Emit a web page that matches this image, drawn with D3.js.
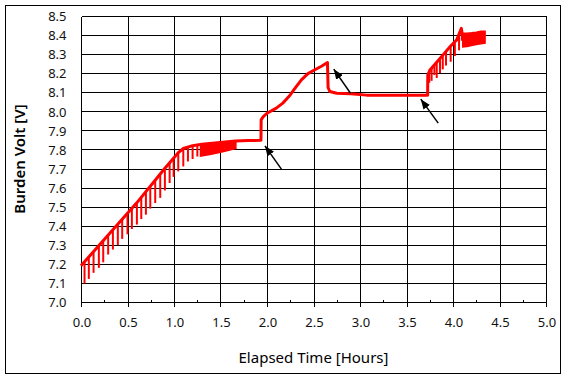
<!DOCTYPE html>
<html><head><meta charset="utf-8">
<script src="https://cdn.jsdelivr.net/npm/d3@7"></script>
<style>body{margin:0;background:#fff} svg{display:block} text{font-family:"Noto Sans",sans-serif}</style>
</head><body><svg id="c" width="567" height="380"></svg>
<script>
// ---- data ----
const xTickValues = [0.0, 0.5, 1.0, 1.5, 2.0, 2.5, 3.0, 3.5, 4.0, 4.5, 5.0];
const xMinorTicks = [0.25, 0.75, 1.25, 1.75, 2.25, 2.75, 3.25, 3.75, 4.25, 4.75];
const yTickValues = [7.0, 7.1, 7.2, 7.3, 7.4, 7.5, 7.6, 7.7, 7.8, 7.9, 8.0, 8.1, 8.2, 8.3, 8.4, 8.5];
const xTitle = "Elapsed Time [Hours]";
const yTitle = "Burden Volt [V]";

// main trace (upper envelope, plateaus and jumps)
const traceTime = [0, 0.1, 0.2, 0.3, 0.4, 0.5, 0.6, 0.7, 0.8, 0.9, 1.0, 1.05, 1.1, 1.2, 1.3, 1.66, 1.8, 1.935, 1.937, 1.96, 2.0, 2.1, 2.17, 2.24, 2.3, 2.37, 2.44, 2.51, 2.59, 2.65, 2.657, 2.675, 2.75, 2.9, 3.07, 3.4, 3.727, 3.729, 3.75, 3.82, 3.9, 3.97, 4.04, 4.09, 4.10];
const traceVolt = [7.19, 7.245, 7.30, 7.355, 7.41, 7.465, 7.52, 7.58, 7.64, 7.70, 7.757, 7.785, 7.805, 7.82, 7.828, 7.845, 7.847, 7.848, 7.955, 7.972, 7.99, 8.017, 8.043, 8.08, 8.12, 8.165, 8.198, 8.217, 8.238, 8.256, 8.125, 8.104, 8.095, 8.092, 8.085, 8.085, 8.085, 8.19, 8.215, 8.255, 8.30, 8.34, 8.375, 8.435, 8.40];

// downward spikes of the sawtooth
const spikeTime = [0.038, 0.084, 0.135, 0.192, 0.239, 0.292, 0.343, 0.396, 0.443, 0.5, 0.547, 0.601, 0.648, 0.698, 0.745, 0.798, 0.852, 0.902, 0.953, 0.996, 1.046, 1.1, 1.15, 1.2, 1.251,
                   3.745, 3.77, 3.80, 3.825, 3.86, 3.89, 3.925, 3.975, 4.02, 4.065, 4.095];
const spikeTop  = [7.21, 7.235, 7.26, 7.295, 7.32, 7.35, 7.38, 7.41, 7.435, 7.465, 7.49, 7.52, 7.55, 7.58, 7.61, 7.64, 7.67, 7.70, 7.73, 7.755, 7.785, 7.805, 7.815, 7.82, 7.825,
                   8.20, 8.225, 8.24, 8.255, 8.275, 8.295, 8.315, 8.345, 8.365, 8.40, 8.43];
const spikeLow  = [7.097, 7.121, 7.153, 7.179, 7.208, 7.249, 7.275, 7.299, 7.331, 7.355, 7.383, 7.406, 7.435, 7.458, 7.49, 7.519, 7.546, 7.585, 7.624, 7.656, 7.685, 7.711, 7.737, 7.75, 7.763,
                   8.15, 8.16, 8.19, 8.175, 8.20, 8.22, 8.24, 8.26, 8.29, 8.32, 8.37];

// dense oscillation bands
const band1Time = [1.285, 1.4, 1.5, 1.6, 1.665];
const band1Hi   = [7.825, 7.832, 7.837, 7.842, 7.845];
const band1Lo   = [7.765, 7.775, 7.785, 7.797, 7.805];
const band2Time = [4.105, 4.15, 4.2, 4.25, 4.3, 4.345];
const band2Hi   = [8.41, 8.41, 8.412, 8.415, 8.42, 8.42];
const band2Lo   = [8.338, 8.34, 8.345, 8.35, 8.355, 8.358];

// annotation arrows [time, volt]
const arrowTail = [[2.155, 7.697], [2.898, 8.095], [3.841, 7.938]];
const arrowTip  = [[1.978, 7.819], [2.718, 8.221], [3.654, 8.064]];

// ---- drawing ----
const svg = d3.select("#c");
const x = d3.scaleLinear().domain([0, 5]).range([81, 546]);
const y = d3.scaleLinear().domain([7, 8.5]).range([302, 16]);
const px = v => Math.round(x(v)) + 0.5;
const py = v => Math.round(y(v)) + 0.5;

svg.append("rect").attr("x", 5.5).attr("y", 5.5).attr("width", 555).attr("height", 368)
  .attr("fill", "#fff").attr("stroke", "#000").attr("stroke-width", 1);

const grid = svg.append("g").attr("stroke", "#000").attr("stroke-width", 1).attr("shape-rendering", "crispEdges");
grid.selectAll("line.v").data(xTickValues).join("line").attr("class", "v")
  .attr("x1", px).attr("x2", px).attr("y1", py(8.5)).attr("y2", py(7));
grid.selectAll("line.h").data(yTickValues).join("line").attr("class", "h")
  .attr("y1", py).attr("y2", py).attr("x1", px(0)).attr("x2", px(5));
// major ticks (outside) and minor ticks (inside) on the x axis
grid.selectAll("line.mj").data(xTickValues).join("line").attr("class", "mj")
  .attr("x1", px).attr("x2", px).attr("y1", py(7)).attr("y2", py(7) + 4);
grid.selectAll("line.mn").data(xMinorTicks).join("line").attr("class", "mn")
  .attr("x1", px).attr("x2", px).attr("y1", py(7)).attr("y2", py(7) - 3);

// tick labels via d3 axes (no lines)
const xAxis = svg.append("g").attr("transform", `translate(0.5,${py(7)})`)
  .call(d3.axisBottom(x).tickValues(xTickValues).tickFormat(d3.format(".1f")).tickSize(0).tickPadding(15));
const yAxis = svg.append("g").attr("transform", `translate(${px(0)},0.5)`)
  .call(d3.axisLeft(y).tickValues(yTickValues).tickFormat(d3.format(".1f")).tickSize(0).tickPadding(15));
[xAxis, yAxis].forEach(a => {
  a.select(".domain").remove();
  a.selectAll("text").attr("font-family", "'Noto Sans', sans-serif").attr("font-size", 13).attr("fill", "#111");
});

// curve
const red = "#ff0000";
const plot = svg.append("g");
const area = (T, H, L) => d3.area().x((d, i) => x(T[i])).y0((d, i) => y(L[i])).y1((d, i) => y(H[i]))(T);
plot.append("path").attr("d", area(band1Time, band1Hi, band1Lo)).attr("fill", red).attr("stroke", red).attr("stroke-width", 1.5);
plot.append("path").attr("d", area(band2Time, band2Hi, band2Lo)).attr("fill", red).attr("stroke", red).attr("stroke-width", 1.5);
plot.selectAll("line.sp").data(spikeTime).join("line").attr("class", "sp")
  .attr("x1", d => x(d)).attr("x2", d => x(d))
  .attr("y1", (d, i) => y(spikeTop[i])).attr("y2", (d, i) => y(spikeLow[i]))
  .attr("stroke", red).attr("stroke-width", 2);
plot.append("path")
  .attr("d", d3.line().x((d, i) => x(traceTime[i])).y((d, i) => y(traceVolt[i]))(traceTime))
  .attr("fill", "none").attr("stroke", red).attr("stroke-width", 3).attr("stroke-linejoin", "round");

// arrows
svg.append("defs").append("marker").attr("id", "ah").attr("markerUnits", "userSpaceOnUse")
  .attr("viewBox", "0 0 10 8").attr("refX", 10).attr("refY", 4).attr("markerWidth", 10).attr("markerHeight", 8)
  .attr("orient", "auto").append("path").attr("d", "M0,0 L10,4 L0,8 Z").attr("fill", "#000");
svg.selectAll("line.ar").data(arrowTail).join("line").attr("class", "ar")
  .attr("x1", d => x(d[0])).attr("y1", d => y(d[1]))
  .attr("x2", (d, i) => x(arrowTip[i][0])).attr("y2", (d, i) => y(arrowTip[i][1]))
  .attr("stroke", "#000").attr("stroke-width", 1.5).attr("marker-end", "url(#ah)");

// titles
svg.append("text").attr("x", (x(0) + x(5)) / 2).attr("y", 363).attr("text-anchor", "middle")
  .attr("font-size", 15).attr("fill", "#000").text(xTitle);
svg.append("text").attr("transform", `translate(25,${(y(7) + y(8.5)) / 2}) rotate(-90)`).attr("text-anchor", "middle")
  .attr("font-size", 15).attr("font-weight", 600).attr("fill", "#000").text(yTitle);
</script></body></html>
